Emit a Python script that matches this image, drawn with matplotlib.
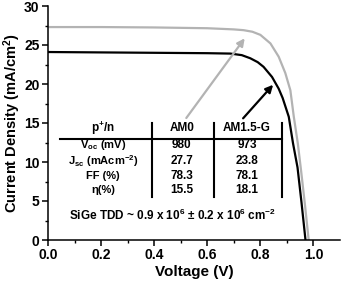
import matplotlib
matplotlib.use("Agg")
import matplotlib.pyplot as plt

# J-V curves
v_am15 = [0.0, 0.2, 0.4, 0.6, 0.687, 0.73, 0.762, 0.79, 0.812, 0.844, 0.869, 0.884, 0.907, 0.923, 0.94, 0.955, 0.97]
j_am15 = [24.1, 24.05, 24.0, 23.95, 23.9, 23.7, 23.3, 22.8, 22.2, 20.9, 19.4, 18.2, 15.8, 12.4, 9.3, 4.8, 0.0]

v_am0 = [0.0, 0.2, 0.4, 0.6, 0.7, 0.737, 0.77, 0.8, 0.838, 0.869, 0.894, 0.913, 0.926, 0.941, 0.953, 0.968, 0.982]
j_am0 = [27.3, 27.3, 27.25, 27.15, 27.0, 26.9, 26.7, 26.3, 25.2, 23.5, 21.4, 19.2, 15.8, 12.4, 9.0, 4.5, 0.0]

# table inside the plot
row_names = [r"V$_{\mathrm{oc}}$ (mV)", r"J$_{\mathrm{sc}}$ (mAcm$^{-2}$)", "FF (%)", "η(%)"]
col_names = [r"p$^{+}$/n", "AM0", "AM1.5-G"]
am0_vals = ["980", "27.7", "78.3", "15.5"]
am15_vals = ["973", "23.8", "78.1", "18.1"]
tdd_note = r"SiGe TDD ~ 0.9 x 10$^{6}$ ± 0.2 x 10$^{6}$ cm$^{-2}$"

plt.rcParams["font.family"] = ["Liberation Sans", "DejaVu Sans"]
plt.rcParams["font.weight"] = "bold"
plt.rcParams["mathtext.fontset"] = "custom"
plt.rcParams["mathtext.rm"] = "Liberation Sans:bold"
plt.rcParams["mathtext.it"] = "Liberation Sans:bold"
plt.rcParams["mathtext.bf"] = "Liberation Sans:bold"

fig = plt.figure(figsize=(3.42, 2.82), dpi=100)
ax = fig.add_axes([48 / 342, 1 - 240 / 282, 292 / 342, 234 / 282])

ax.plot(v_am0, j_am0, color="#b3b3b3", lw=1.6)
ax.plot(v_am15, j_am15, color="black", lw=1.6)

ax.set_xlim(0, 1.1)
ax.set_ylim(0, 30)
ax.set_xticks([0.0, 0.2, 0.4, 0.6, 0.8, 1.0])
ax.set_xticks([0.1, 0.3, 0.5, 0.7, 0.9], minor=True)
ax.set_yticks([0, 5, 10, 15, 20, 25, 30])
ax.set_yticks([2.5, 7.5, 12.5, 17.5, 22.5, 27.5], minor=True)
ax.tick_params(which="major", direction="out", length=4, width=1.1, labelsize=10, pad=2)
ax.tick_params(which="minor", direction="out", length=2.5, width=1.0)
for s in ["top", "right"]:
    ax.spines[s].set_visible(False)
for s in ["left", "bottom"]:
    ax.spines[s].set_linewidth(1.1)

ax.set_xlabel("Voltage (V)", fontsize=11, fontweight="bold", labelpad=2)
ax.set_ylabel(r"Current Density (mA/cm$^{2}$)", fontsize=10.5, fontweight="bold", labelpad=1)

# arrows pointing at the curves
ax.annotate("", xy=(0.741, 25.86), xytext=(0.521, 15.64),
            arrowprops=dict(arrowstyle="-|>", color="#b3b3b3", lw=1.6, mutation_scale=11, shrinkA=0, shrinkB=0))
ax.annotate("", xy=(0.848, 19.9), xytext=(0.735, 15.6),
            arrowprops=dict(arrowstyle="-|>", color="black", lw=1.6, mutation_scale=11, shrinkA=0, shrinkB=0))

# table lines
ax.plot([0.045, 0.883], [12.9, 12.9], color="black", lw=1.5)
for xv in [0.391, 0.624, 0.882]:
    ax.plot([xv, xv], [15.0, 5.5], color="black", lw=1.5)

col_x = [0.207, 0.504, 0.75]
row_y = [12.15, 10.1, 8.15, 6.4]
for cx, name in zip(col_x, col_names):
    ax.text(cx, 14.35, name, ha="center", va="center", fontsize=8.5, fontweight="bold")
for ry, name, a0, a15 in zip(row_y, row_names, am0_vals, am15_vals):
    ax.text(col_x[0], ry, name, ha="center", va="center", fontsize=8, fontweight="bold")
    ax.text(col_x[1], ry, a0, ha="center", va="center", fontsize=8.5, fontweight="bold")
    ax.text(col_x[2], ry, a15, ha="center", va="center", fontsize=8.5, fontweight="bold")

ax.text(0.468, 3.2, tdd_note, ha="center", va="center", fontsize=8.5, fontweight="bold")

fig.savefig("out.png", dpi=100)
